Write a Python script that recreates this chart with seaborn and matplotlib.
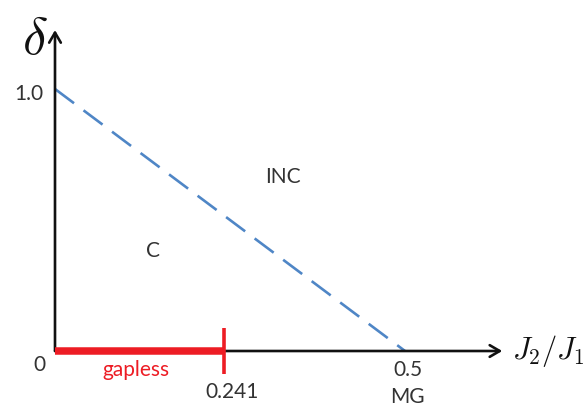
import matplotlib
matplotlib.use("Agg")
import matplotlib.pyplot as plt
import seaborn as sns

sns.set_theme(style="white")
plt.rcParams["font.family"] = ["Lato", "DejaVu Sans"]
plt.rcParams["mathtext.fontset"] = "cm"

# Phase boundary between commensurate (C) and incommensurate (INC) regions
boundary_x = [0.0, 0.5]
boundary_delta = [1.0, 0.0]

# Gapless segment on the delta = 0 line
gapless_end = 0.241
mg_point = 0.5

x_ticks = [0.0, gapless_end, mg_point]
x_tick_labels = ["0", "0.241", "0.5"]
y_tick_value = 1.0
y_tick_label = "1.0"

fig = plt.figure(figsize=(5.86, 4.07), dpi=100)
ax = fig.add_axes([0, 0, 1, 1])
ax.set_xlim(-55 / 700, 531 / 700)
ax.set_ylim(-56 / 262, 351 / 262)
ax.axis("off")

text_color = "#333333"
red = "#ED1C24"
blue = "#4F86C6"

# axes with arrowheads
arrow = dict(arrowstyle="->,head_length=0.6,head_width=0.35", color="#111111", lw=1.9,
             shrinkA=0, shrinkB=0)
ax.annotate("", xy=(0, 1.225), xytext=(0, 0), arrowprops=arrow)
ax.annotate("", xy=(0.639, 0), xytext=(0, 0), arrowprops=arrow)

# phase boundary
sns.lineplot(x=boundary_x, y=boundary_delta, ax=ax, color=blue, lw=1.9,
             dashes=False, legend=False).lines[-1].set_dashes([9, 4.5])

# gapless segment and its end marker
ax.plot([0, gapless_end], [0, 0], color=red, lw=5.4, solid_capstyle="butt", zorder=5)
ax.plot([gapless_end, gapless_end], [-0.088, 0.088], color=red, lw=2.6,
        solid_capstyle="butt", zorder=5)

fs = 15
# tick labels
ax.text(-0.022, 0 - 0.055, x_tick_labels[0], fontsize=fs, color=text_color,
        ha="center", va="center")
ax.text(gapless_end + 0.012, -0.157, x_tick_labels[1], fontsize=fs, color=text_color,
        ha="center", va="center")
ax.text(mg_point + 0.004, -0.073, x_tick_labels[2], fontsize=fs, color=text_color,
        ha="center", va="center")
ax.text(mg_point + 0.004, -0.175, "MG", fontsize=fs, color=text_color,
        ha="center", va="center")
ax.text(-0.037, y_tick_value - 0.02, y_tick_label, fontsize=fs, color=text_color,
        ha="center", va="center")

ax.text(0.115, -0.073, "gapless", fontsize=fs, color=red, ha="center", va="center")

# region labels
ax.text(0.326, 0.665, "INC", fontsize=fs, color=text_color, ha="center", va="center")
ax.text(0.14, 0.38, "C", fontsize=fs, color=text_color, ha="center", va="center")

# axis titles
ax.text(-0.028, 1.19, r"$\delta$", fontsize=38, color="#111111", ha="center", va="center")
ax.text(0.653, 0.0, r"$J_2/J_1$", fontsize=22, color="#111111", ha="left", va="center")

fig.savefig("out.png", dpi=100)
